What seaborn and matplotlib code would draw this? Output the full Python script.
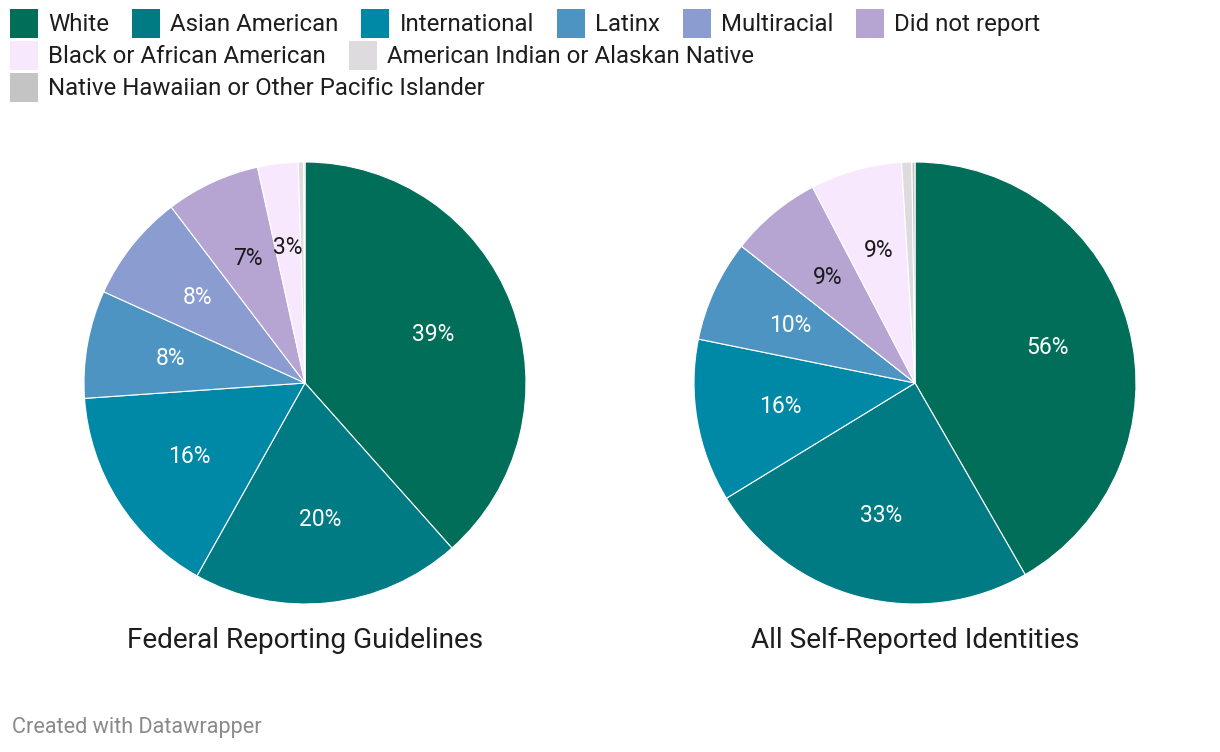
import matplotlib
matplotlib.use("Agg")
import matplotlib.pyplot as plt
import seaborn as sns
from matplotlib.patches import Rectangle

categories = ["White", "Asian American", "International", "Latinx", "Multiracial",
              "Did not report", "Black or African American",
              "American Indian or Alaskan Native",
              "Native Hawaiian or Other Pacific Islander"]
colors = ["#006e58", "#007b84", "#0089a6", "#4d94c2", "#8a9cd0",
          "#b6a5d3", "#f8e8fd", "#dddbde", "#c4c4c4"]
federal = [39, 20, 16, 8, 8, 7, 3, 0.4, 0.1]
self_reported = [56, 33, 16, 10, 0, 9, 9, 1, 0.3]
titles = ["Federal Reporting Guidelines", "All Self-Reported Identities"]
footer = "Created with Datawrapper"

sns.set_theme(style="white")
plt.rcParams['font.family'] = ['Roboto', 'DejaVu Sans']

W, H = 1220, 752
fig = plt.figure(figsize=(12.2, 7.52), dpi=100)
fig.patch.set_facecolor("white")
palette = sns.color_palette(colors)

centers = [305, 915]
cy, r = 383, 221
for cx, vals, title in zip(centers, [federal, self_reported], titles):
    ax = fig.add_axes([(cx - r) / W, (H - cy - r) / H, 2 * r / W, 2 * r / H])
    labels = [f"{v:.0f}%" if v >= 2 else "" for v in vals]
    wedges, texts = ax.pie(vals, colors=palette, startangle=90, counterclock=False,
                           labels=labels, labeldistance=0.62,
                           wedgeprops=dict(edgecolor="white", linewidth=0.8))
    for t, c in zip(texts, palette):
        lum = 0.299 * c[0] + 0.587 * c[1] + 0.114 * c[2]
        t.set_ha("center")
        t.set_va("center")
        t.set_fontsize(16.5)
        t.set_color("white" if lum < 0.65 else "#1a1a1a")
    ax.set_xlim(-1, 1)
    ax.set_ylim(-1, 1)
    ax.set_aspect("equal")
    fig.text(cx / W, 1 - 640 / H, title, ha="center", va="center",
             fontsize=20.2, color="#1d1d1d")

# legend (flow layout)
renderer = fig.canvas.get_renderer()
x = 10
row = 0
row_y = [23.5, 55.5, 87.5]
sw, sh = 28, 28
for cat, col in zip(categories, palette):
    t = fig.text(0, 0, cat, fontsize=17.3, color="#1d1d1d", va="center", ha="left")
    w = t.get_window_extent(renderer).width
    if x + sw + 10 + w > 1210:
        row += 1
        x = 10
    y = row_y[row]
    fig.patches.append(Rectangle((x / W, 1 - (y + sh / 2) / H), sw / W, sh / H,
                                 transform=fig.transFigure, facecolor=col,
                                 edgecolor="none"))
    t.set_position(((x + sw + 10) / W, 1 - (y + 1) / H))
    x += sw + 10 + w + 23

fig.text(12 / W, 1 - 728 / H, footer, ha="left", va="center", fontsize=15.6,
         color="#8a8a8a")

fig.savefig("out.png", dpi=100, facecolor="white")
